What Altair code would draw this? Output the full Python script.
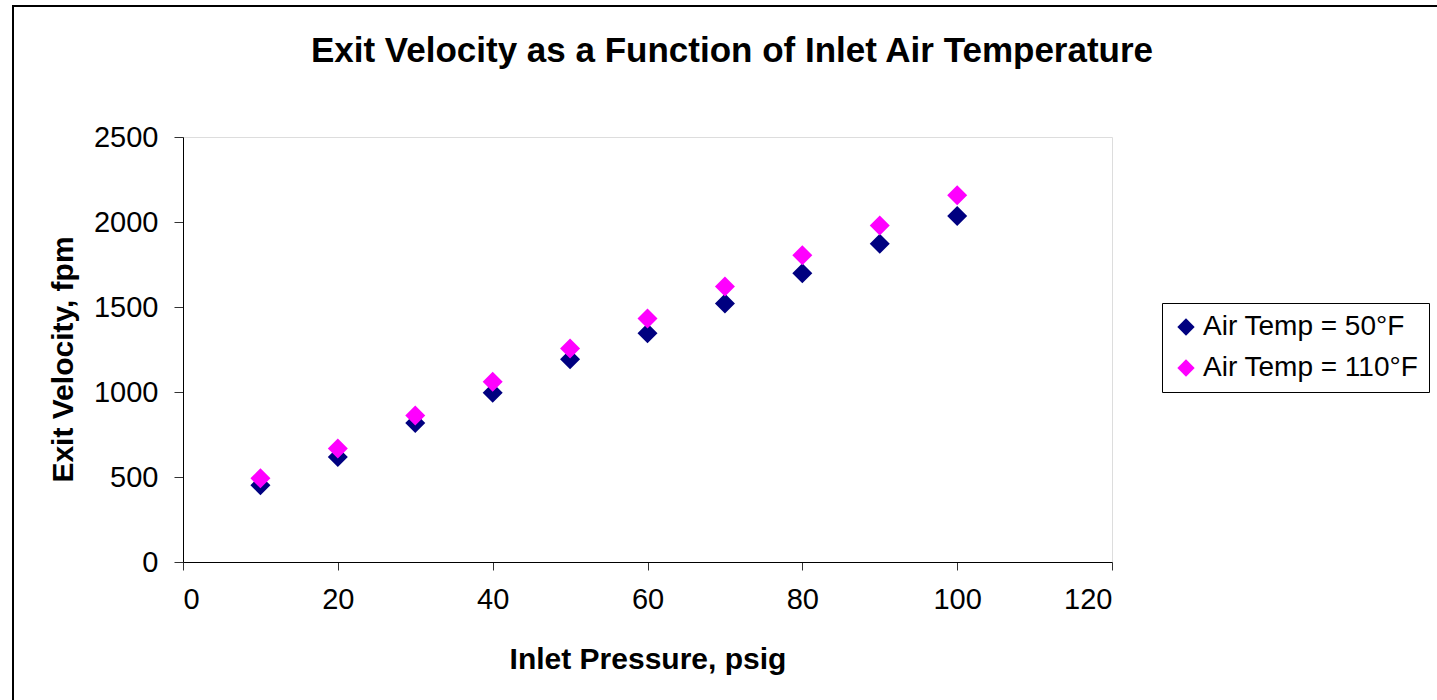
import altair as alt
import pandas as pd

pressure = [10, 20, 30, 40, 50, 60, 70, 80, 90, 100]
vel_50 = [452, 618, 818, 995, 1192, 1345, 1520, 1698, 1872, 2036]
vel_110 = [492, 668, 862, 1060, 1256, 1432, 1620, 1805, 1980, 2157]
series_names = ["Air Temp = 50°F", "Air Temp = 110°F"]
series_colors = ["#000080", "#FF00FF"]
title_text = "Exit Velocity as a Function of Inlet Air Temperature"

FONT = "Liberation Sans"

rows = []
for p, v in zip(pressure, vel_50):
    rows.append({"p": p, "v": v, "s": series_names[0], "o": 0})
for p, v in zip(pressure, vel_110):
    rows.append({"p": p, "v": v, "s": series_names[1], "o": 1})
df = pd.DataFrame(rows)

points = alt.Chart(df).mark_point(shape="diamond", filled=True, size=400, opacity=1).encode(
    x=alt.X("p:Q", scale=alt.Scale(domain=[0, 120], nice=False),
            axis=alt.Axis(values=[0, 20, 40, 60, 80, 100, 120], format="d", title="Inlet Pressure, psig",
                          grid=False, domainColor="black", tickColor="#333333", tickSize=8,
                          labelFontSize=29, labelColor="black", labelPadding=15, labelFont=FONT,
                          titleFont=FONT, titleFontSize=30, titleFontWeight="bold", titleColor="black",
                          titleY=106, titleBaseline="alphabetic")),
    y=alt.Y("v:Q", scale=alt.Scale(domain=[0, 2500], nice=False),
            axis=alt.Axis(values=[0, 500, 1000, 1500, 2000, 2500], format="d", title="Exit Velocity, fpm",
                          grid=False, domainColor="black", tickColor="#333333", tickSize=9,
                          labelFontSize=29, labelColor="black", labelPadding=16, labelFont=FONT,
                          titleFont=FONT, titleFontSize=30, titleFontWeight="bold", titleColor="black",
                          titleX=-111, titleY=222, titleBaseline="alphabetic", titleAngle=270)),
    color=alt.Color("s:N", sort=series_names,
                    scale=alt.Scale(domain=series_names, range=series_colors),
                    legend=alt.Legend(title=None, orient="none", legendX=979, legendY=166,
                                      strokeColor="black", padding=10,
                                      labelFontSize=28, labelFont=FONT, labelColor="black",
                                      labelLimit=400,
                                      symbolSize=300, symbolType="diamond", rowPadding=13,
                                      labelOffset=3, fillColor="white")),
    order=alt.Order("o:Q"),
)

frame = alt.Chart(pd.DataFrame({"a": [0]})).mark_rect(fillOpacity=0, stroke="black", strokeWidth=2).encode(
    x=alt.value(-170), x2=alt.value(1400), y=alt.value(-131), y2=alt.value(700)
)

title = alt.Chart(pd.DataFrame({"t": [title_text]})).mark_text(
    font=FONT, fontSize=35, fontWeight="bold", color="black", align="center", baseline="alphabetic"
).encode(x=alt.value(549), y=alt.value(-75), text="t:N")

chart = alt.layer(frame, title, points).properties(
    width=929, height=425,
    autosize=alt.AutoSizeParams(type="none"),
    padding={"left": 183, "top": 137, "right": 325, "bottom": 138},
).configure_view(stroke="#808080", strokeWidth=1).configure(background="white")

chart.save("out.html", embed_options={"renderer": "svg", "actions": False})
